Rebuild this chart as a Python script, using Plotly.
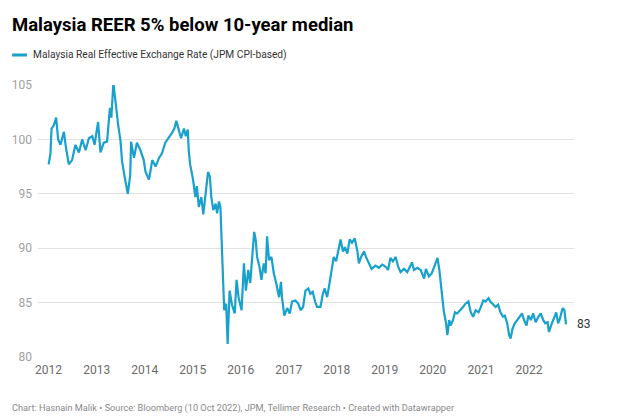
import plotly.graph_objects as go

dates = [
    "2012-01-02", "2012-01-16", "2012-01-24", "2012-02-10", "2012-02-28", "2012-03-14",
    "2012-04-01", "2012-04-27", "2012-05-12", "2012-06-03", "2012-06-28", "2012-07-24",
    "2012-08-19", "2012-09-13", "2012-10-09", "2012-11-03", "2012-11-29", "2012-12-16",
    "2013-01-12", "2013-01-30", "2013-02-24", "2013-03-21", "2013-04-12", "2013-04-23",
    "2013-05-08", "2013-05-23", "2013-06-14", "2013-07-02", "2013-07-13", "2013-08-04",
    "2013-08-26", "2013-09-13", "2013-09-20", "2013-10-12", "2013-11-03", "2013-11-30",
    "2013-12-25", "2014-01-08", "2014-02-03", "2014-02-28", "2014-03-25", "2014-04-20",
    "2014-05-12", "2014-06-07", "2014-07-02", "2014-07-28", "2014-08-15", "2014-08-30",
    "2014-09-17", "2014-10-05", "2014-10-27", "2014-11-10", "2014-11-25", "2014-12-02",
    "2014-12-13", "2015-01-04", "2015-01-22", "2015-02-02", "2015-02-17", "2015-03-08",
    "2015-03-23", "2015-04-10", "2015-04-28", "2015-05-12", "2015-05-23", "2015-06-07",
    "2015-06-25", "2015-07-06", "2015-07-20", "2015-07-31", "2015-08-11", "2015-08-22",
    "2015-08-29", "2015-09-13", "2015-09-24", "2015-10-09", "2015-10-27", "2015-11-17",
    "2015-12-01", "2015-12-16", "2016-01-08", "2016-01-26", "2016-02-10", "2016-02-28",
    "2016-03-14", "2016-03-29", "2016-04-13", "2016-04-24", "2016-05-05", "2016-05-23",
    "2016-06-07", "2016-06-25", "2016-07-09", "2016-07-20", "2016-08-04", "2016-08-22",
    "2016-09-09", "2016-09-27", "2016-10-19", "2016-11-03", "2016-11-10", "2016-11-28",
    "2016-12-20", "2017-01-08", "2017-01-26", "2017-02-20", "2017-03-14", "2017-04-01",
    "2017-04-20", "2017-05-08", "2017-05-30", "2017-06-14", "2017-07-02", "2017-07-20",
    "2017-08-04", "2017-08-30", "2017-09-17", "2017-10-01", "2017-10-20", "2017-11-07",
    "2017-11-28", "2017-12-09", "2017-12-27", "2018-01-12", "2018-01-30", "2018-02-17",
    "2018-03-04", "2018-03-22", "2018-04-09", "2018-04-27", "2018-05-18", "2018-06-07",
    "2018-06-18", "2018-07-05", "2018-07-27", "2018-08-11", "2018-09-02", "2018-09-23",
    "2018-10-22", "2018-11-17", "2018-12-13", "2019-01-08", "2019-01-26", "2019-02-13",
    "2019-03-04", "2019-03-25", "2019-04-13", "2019-05-01", "2019-05-27", "2019-06-21",
    "2019-07-16", "2019-07-27", "2019-08-11", "2019-09-06", "2019-10-01", "2019-10-27",
    "2019-11-10", "2019-12-03", "2019-12-25", "2020-01-12", "2020-01-26", "2020-02-06",
    "2020-02-20", "2020-03-03", "2020-03-14", "2020-03-25", "2020-04-10", "2020-04-21",
    "2020-05-05", "2020-05-16", "2020-06-03", "2020-06-18", "2020-07-05", "2020-07-31",
    "2020-08-18", "2020-09-06", "2020-09-28", "2020-10-16", "2020-11-03", "2020-11-22",
    "2020-12-14", "2021-01-01", "2021-01-19", "2021-02-06", "2021-02-28", "2021-03-14",
    "2021-04-01", "2021-04-23", "2021-05-12", "2021-05-30", "2021-06-18", "2021-07-02",
    "2021-07-20", "2021-08-04", "2021-08-15", "2021-08-29", "2021-09-16", "2021-10-05",
    "2021-10-23", "2021-11-10", "2021-11-25", "2021-12-14", "2021-12-28", "2022-01-16",
    "2022-02-03", "2022-02-21", "2022-03-14", "2022-04-01", "2022-04-20", "2022-05-05",
    "2022-05-23", "2022-06-03", "2022-06-25", "2022-07-13", "2022-07-28", "2022-08-11",
    "2022-08-22", "2022-09-06", "2022-09-16", "2022-09-28", "2022-10-05", "2022-10-10",
]

reer = [
    97.7, 98.7, 101.0, 101.3, 102.0, 100.0,
    99.5, 100.7, 99.3, 97.7, 98.1, 99.5,
    98.8, 100.0, 99.0, 100.1, 100.3, 99.5,
    101.6, 98.8, 99.7, 99.8, 102.9, 102.0,
    105.2, 103.5, 101.3, 99.8, 98.0, 96.4,
    95.0, 96.7, 99.8, 98.3, 99.7, 99.0,
    98.1, 97.0, 96.3, 98.1, 97.5, 98.3,
    98.7, 99.7, 100.1, 100.6, 101.0, 101.7,
    100.9, 100.1, 101.0, 100.3, 100.9, 99.0,
    97.7, 96.3, 94.7, 95.7, 93.8, 94.7,
    93.1, 95.4, 97.0, 96.6, 94.7, 93.5,
    94.1, 93.2, 94.3, 93.8, 90.5, 87.4,
    84.3, 84.9, 81.2, 86.1, 84.8, 84.0,
    87.1, 85.5, 84.3, 88.6, 86.1, 88.0,
    86.8, 89.2, 91.5, 90.8, 89.2, 88.3,
    87.1, 88.6, 87.7, 91.1, 88.9, 89.2,
    87.7, 86.8, 85.5, 86.9, 85.5, 83.8,
    84.5, 84.0, 85.1, 85.2, 84.9, 84.3,
    84.6, 86.1, 86.3, 85.8, 86.0, 85.1,
    84.6, 84.6, 85.8, 86.3, 85.5, 86.8,
    88.6, 89.2, 88.8, 89.8, 90.8, 89.7,
    90.1, 89.5, 90.8, 90.5, 90.9, 89.7,
    88.6, 89.2, 89.7, 89.2, 88.6, 88.1,
    88.4, 88.2, 88.5, 88.3, 88.0, 89.1,
    88.8, 89.2, 88.3, 87.8, 88.1, 87.8,
    88.4, 88.7, 88.0, 88.2, 88.0, 87.2,
    88.1, 87.4, 87.7, 88.3, 88.9, 89.1,
    88.0, 86.6, 85.1, 84.2, 83.2, 82.0,
    83.4, 82.9, 83.4, 84.1, 84.0, 84.3,
    84.6, 84.9, 85.1, 84.1, 83.7, 84.3,
    84.1, 84.6, 85.2, 85.1, 85.4, 85.1,
    84.9, 84.6, 84.8, 84.1, 83.7, 83.8,
    83.1, 82.0, 81.7, 82.6, 83.1, 83.4,
    83.7, 84.0, 83.4, 82.9, 83.8, 83.4,
    84.0, 83.2, 83.7, 84.0, 83.4, 83.1,
    83.2, 82.3, 83.1, 83.7, 84.1, 83.1,
    83.4, 84.1, 84.5, 84.3, 83.1, 83.0,
]

y_ticks = [80, 85, 90, 95, 100, 105]
x_ticks = ["2012-01-01", "2013-01-01", "2014-01-01", "2015-01-01", "2016-01-01", "2017-01-01",
           "2018-01-01", "2019-01-01", "2020-01-01", "2021-01-01", "2022-01-01"]
x_tick_labels = ["2012", "2013", "2014", "2015", "2016", "2017", "2018", "2019", "2020", "2021", "2022"]

title = "Malaysia REER 5% below 10-year median"
series_name = "Malaysia Real Effective Exchange Rate (JPM CPI-based)"
footer = "Chart: Hasnain Malik • Source: Bloomberg (10 Oct 2022), JPM, Tellimer Research • Created with Datawrapper"

LINE = "#18a1cd"
W, H = 620, 420
ML, MR, MT, MB = 36, 46, 85, 63
PW = W - ML - MR
PH = H - MT - MB


def px(x):
    return (x - ML) / PW


def py(y):
    return (H - MB - y) / PH


fig = go.Figure()
fig.add_trace(go.Scatter(
    x=dates, y=reer, mode="lines", name=series_name,
    line=dict(color=LINE, width=2.2), showlegend=False,
))

fig.update_layout(
    width=W, height=H,
    margin=dict(l=ML, r=MR, t=MT, b=MB, pad=0),
    paper_bgcolor="white", plot_bgcolor="white",
    font=dict(family="Roboto", size=12, color="#333333"),
    xaxis=dict(
        range=["2011-10-13", "2022-12-10"], tickmode="array",
        tickvals=x_ticks, ticktext=x_tick_labels, showgrid=False,
        zeroline=False, showline=False, ticks="",
        tickfont=dict(size=12, color="#6b6b6b"), ticklabelstandoff=4,
    ),
    yaxis=dict(
        range=[80, 105], tickmode="array", tickvals=y_ticks,
        showgrid=True, gridcolor="#e3e3e3", gridwidth=1, zeroline=False,
        showline=False, ticks="", tickfont=dict(size=12, color="#a0a0a0"),
        ticklabelstandoff=5,
    ),
)

fig.add_annotation(
    x=px(8), y=py(25), xref="paper", yref="paper", text=f"<b>{title}</b>",
    showarrow=False, xanchor="left", yanchor="middle",
    font=dict(family="Roboto", size=18.5, color="#000000"),
)
fig.add_shape(
    type="line", xref="paper", yref="paper", x0=px(10), x1=px(25), y0=py(55), y1=py(55),
    line=dict(color=LINE, width=3),
)
fig.add_annotation(
    x=px(29), y=py(55), xref="paper", yref="paper", text=series_name,
    showarrow=False, xanchor="left", yanchor="middle",
    font=dict(family="Roboto", size=10.2, color="#333333"),
)
fig.add_annotation(
    x=px(8), y=py(408), xref="paper", yref="paper", text=footer,
    showarrow=False, xanchor="left", yanchor="middle",
    font=dict(family="Roboto", size=9.2, color="#8a8a8a"),
)
fig.add_annotation(
    x=dates[-1], y=reer[-1], xref="x", yref="y", text=f"{reer[-1]:.0f}",
    showarrow=False, xanchor="left", yanchor="middle", xshift=9,
    font=dict(family="Roboto", size=12, color="#333333"),
)

fig.write_html("out.html", config={"displayModeBar": False})

# remove the browser's default 8px page margin so the figure sits at the window origin
with open("out.html", encoding="utf-8") as f:
    html = f.read()
html = html.replace("<body>", '<body style="margin:0;padding:0;overflow:hidden">', 1)
with open("out.html", "w", encoding="utf-8") as f:
    f.write(html)
